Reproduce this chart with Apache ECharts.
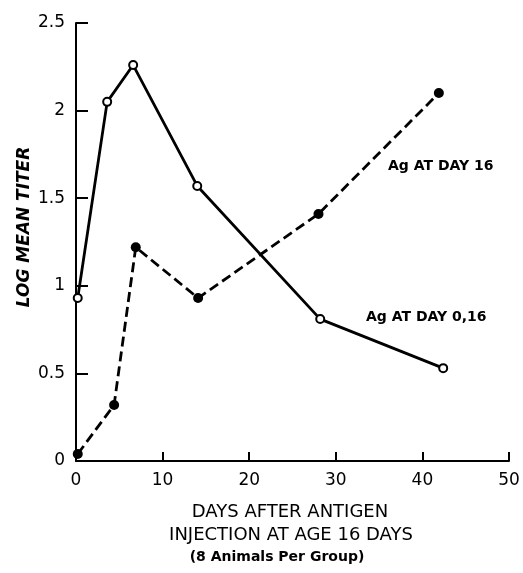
<!DOCTYPE html>
<html>
<head>
<meta charset="utf-8">
<script src="https://cdn.jsdelivr.net/npm/echarts@6/dist/echarts.min.js"></script>
<style>html,body{margin:0;padding:0;background:#fff}#c{width:523px;height:573px}</style>
</head>
<body>
<div id="c"></div>
<script>
// Ag AT DAY 0,16 (solid line, open circles)
const daysA = [0.2, 3.6, 6.6, 14.0, 28.2, 42.4];
const titerA = [0.93, 2.05, 2.26, 1.57, 0.81, 0.53];
// Ag AT DAY 16 (dashed line, filled circles)
const daysB = [0.2, 4.4, 6.9, 14.1, 28.0, 41.9];
const titerB = [0.04, 0.32, 1.22, 0.93, 1.41, 2.10];
const xTicks = [0, 10, 20, 30, 40, 50];
const yTicks = ['0', '0.5', '1', '1.5', '2', '2.5'];

const font = 'DejaVu Sans';
const chart = echarts.init(document.getElementById('c'));
chart.setOption({
  animation: false,
  grid: { left: 76, right: 14, top: 23, bottom: 112 },
  xAxis: {
    type: 'value', min: 0, max: 50, interval: 10,
    axisLine: { lineStyle: { color: '#000', width: 2 } },
    axisTick: { inside: true, length: 9, lineStyle: { color: '#000', width: 2 } },
    splitLine: { show: false },
    axisLabel: { color: '#000', fontFamily: font, fontSize: 17, margin: 11,
      formatter: v => String(xTicks[Math.round(v / 10)]) }
  },
  yAxis: {
    type: 'value', min: 0, max: 2.5, interval: 0.5,
    axisLine: { lineStyle: { color: '#000', width: 2 } },
    axisTick: { inside: true, length: 12, lineStyle: { color: '#000', width: 2 } },
    splitLine: { show: false },
    axisLabel: { color: '#000', fontFamily: font, fontSize: 17, margin: 11,
      formatter: v => yTicks[Math.round(v / 0.5)] }
  },
  series: [
    {
      type: 'line', name: 'Ag AT DAY 0,16',
      data: daysA.map((d, i) => [d, titerA[i]]),
      symbol: 'circle', symbolSize: 8,
      itemStyle: { color: '#fff', borderColor: '#000', borderWidth: 2 },
      lineStyle: { color: '#000', width: 2.8 }
    },
    {
      type: 'line', name: 'Ag AT DAY 16',
      data: daysB.map((d, i) => [d, titerB[i]]),
      symbol: 'circle', symbolSize: 10,
      itemStyle: { color: '#000', borderColor: '#000', borderWidth: 0 },
      lineStyle: { color: '#000', width: 2.8, type: [10, 5] }
    }
  ],
  graphic: [
    { type: 'text', left: 388, top: 159, style: { text: 'Ag AT DAY 16', fill: '#000',
      font: 'bold 14px "' + font + '"' } },
    { type: 'text', left: 366, top: 310, style: { text: 'Ag AT DAY 0,16', fill: '#000',
      font: 'bold 14px "' + font + '"' } },
    { type: 'text', x: 25, y: 227, rotation: Math.PI / 2, style: { text: 'LOG MEAN TITER', fill: '#000',
      font: 'italic bold 17px "' + font + '"', align: 'center', verticalAlign: 'middle' } },
    { type: 'text', x: 290, y: 512, style: { text: 'DAYS AFTER ANTIGEN', fill: '#000',
      font: '18px "' + font + '"', align: 'center', verticalAlign: 'middle' } },
    { type: 'text', x: 291, y: 535, style: { text: 'INJECTION AT AGE 16 DAYS', fill: '#000',
      font: '18px "' + font + '"', align: 'center', verticalAlign: 'middle' } },
    { type: 'text', x: 277, y: 557, style: { text: '(8 Animals Per Group)', fill: '#000',
      font: 'bold 14px "' + font + '"', align: 'center', verticalAlign: 'middle' } }
  ]
});
</script>
</body>
</html>
